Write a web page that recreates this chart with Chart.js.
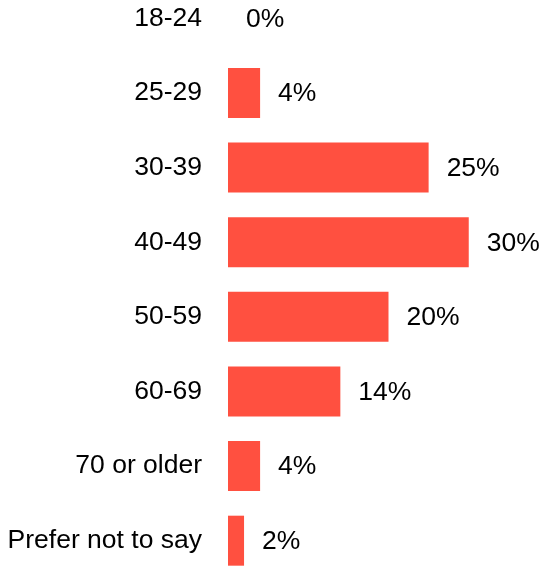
<!DOCTYPE html>
<html>
<head>
<meta charset="utf-8">
<script src="https://cdn.jsdelivr.net/npm/chart.js@4/dist/chart.umd.min.js"></script>
<style>
  html, body { margin: 0; padding: 0; background: #fff; overflow: hidden; }
  #c { position: absolute; left: 0; top: -19px; }
</style>
</head>
<body>
<canvas id="c" width="549" height="597" style="width:549px;height:597px"></canvas>
<script>
const categories = ["18-24", "25-29", "30-39", "40-49", "50-59", "60-69", "70 or older", "Prefer not to say"];
const values = [0, 4, 25, 30, 20, 14, 4, 2];
const valueLabels = ["0%", "4%", "25%", "30%", "20%", "14%", "4%", "2%"];

const FONT = "'Liberation Sans', Arial, Helvetica, sans-serif";

const valueLabelPlugin = {
  id: 'valueLabels',
  afterDatasetsDraw(chart) {
    const ctx = chart.ctx;
    const meta = chart.getDatasetMeta(0);
    ctx.save();
    ctx.font = "26.5px " + FONT;
    ctx.fillStyle = "#000";
    ctx.textAlign = "left";
    ctx.textBaseline = "middle";
    meta.data.forEach((bar, i) => {
      ctx.fillText(valueLabels[i], bar.x + 18, bar.y + 1);
    });
    ctx.restore();
  }
};

new Chart(document.getElementById('c'), {
  type: 'bar',
  data: {
    labels: categories,
    datasets: [{
      data: values,
      backgroundColor: '#FF5040',
      borderWidth: 0,
      barPercentage: 0.67,
      categoryPercentage: 1.0
    }]
  },
  options: {
    indexAxis: 'y',
    responsive: false,
    maintainAspectRatio: false,
    devicePixelRatio: 1,
    animation: false,
    layout: { padding: { left: 8, right: 0, top: 0, bottom: 0 } },
    plugins: { legend: { display: false }, tooltip: { enabled: false } },
    scales: {
      x: {
        display: false,
        min: 0,
        max: 40
      },
      y: {
        grid: { display: false, drawTicks: false, drawOnChartArea: false },
        border: { display: false },
        afterFit(scale) { scale.width = 220; scale.paddingTop = 0; scale.paddingBottom = 0; },
        ticks: {
          color: '#000',
          padding: 26,
          font: { family: FONT, size: 26.5 }
        }
      }
    }
  },
  plugins: [valueLabelPlugin]
});
</script>
</body>
</html>
